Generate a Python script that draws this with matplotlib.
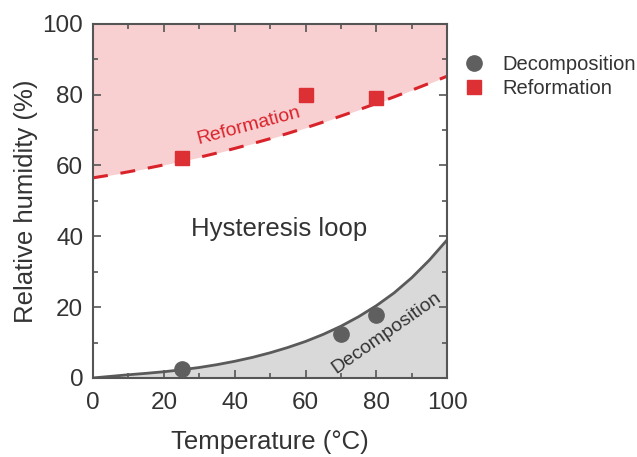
import matplotlib
matplotlib.use("Agg")
import matplotlib.pyplot as plt
from matplotlib.ticker import MultipleLocator
from matplotlib.lines import Line2D

plt.rcParams['font.family'] = ['Liberation Sans', 'DejaVu Sans']

# Measured points
decomp_T = [25, 70, 80]
decomp_RH = [2.5, 12.3, 17.9]
reform_T = [25, 60, 80]
reform_RH = [62, 80, 79]

# Boundary curves
curve_T = [0, 5, 10, 15, 20, 25, 30, 35, 40, 45, 50, 55, 60, 65, 70, 75, 80, 85, 90, 95, 100]
decomp_curve = [0, 0.45, 0.9, 1.3, 1.75, 2.3, 2.95, 3.75, 4.7, 5.8, 7.1, 8.6, 10.3, 12.3, 14.6, 17.3, 20.4, 24.0, 28.3, 33.3, 39.0]
reform_curve = [56.5, 57.3, 58.2, 59.15, 60.15, 61.2, 62.3, 63.5, 64.8, 66.15, 67.55,
                69.05, 70.6, 72.25, 73.95, 75.7, 77.5, 79.35, 81.25, 83.2, 85.2]

fig = plt.figure(figsize=(6.37, 4.57), dpi=100)
ax = fig.add_axes([0.146, 0.173, 0.556, 0.775])

ax.fill_between(curve_T, reform_curve, 100, color='#f9d0d1', lw=0)
ax.fill_between(curve_T, 0, decomp_curve, color='#d9d9d9', lw=0)
ax.plot(curve_T, decomp_curve, color='#5a5a5a', lw=2)
ax.plot(curve_T, reform_curve, color='#d9232b', lw=2.2, dashes=(4.9, 4.2))

ax.plot(decomp_T, decomp_RH, 'o', color='#5f5f5f', ms=11, zorder=5, clip_on=False)
ax.plot(reform_T, reform_RH, 's', color='#dc3035', ms=10.5, zorder=5)

ax.text(52.5, 42, 'Hysteresis loop', fontsize=18.5, color='#333333', ha='center', va='center')
ax.text(44, 71.3, 'Reformation', fontsize=14, color='#d9232b', ha='center', va='center',
        rotation=15)
ax.text(82.8, 12.6, 'Decomposition', fontsize=14, color='#333333', ha='center', va='center',
        rotation=35)

ax.set_xlim(0, 100)
ax.set_ylim(0, 100)
ax.xaxis.set_major_locator(MultipleLocator(20))
ax.xaxis.set_minor_locator(MultipleLocator(10))
ax.yaxis.set_major_locator(MultipleLocator(20))
ax.yaxis.set_minor_locator(MultipleLocator(10))
ax.tick_params(which='both', direction='in', top=True, right=True, colors='#555555',
               labelcolor='#333333', width=1.2)
ax.tick_params(which='major', length=6, labelsize=17.5)
ax.tick_params(which='minor', length=3.5)
ax.tick_params(axis='x', which='major', pad=10)
ax.tick_params(axis='y', which='major', pad=7)
for s in ax.spines.values():
    s.set_color('#555555')
    s.set_linewidth(1.5)

ax.set_xlabel('Temperature (°C)', fontsize=18.5, color='#333333', labelpad=12)
ax.set_ylabel('Relative humidity (%)', fontsize=18.5, color='#333333', labelpad=3)

handles = [
    Line2D([], [], marker='o', ls='none', color='#5f5f5f', ms=11),
    Line2D([], [], marker='s', ls='none', color='#dc3035', ms=10.5),
]
fig.legend(handles, ['Decomposition', 'Reformation'], loc='upper left',
           bbox_to_anchor=(0.7285, 0.88), frameon=False, fontsize=14.5,
           handletextpad=0.9, labelspacing=0.25, handlelength=1.0,
           labelcolor='#333333', borderaxespad=0, borderpad=0)

fig.savefig('out.png', dpi=100)
